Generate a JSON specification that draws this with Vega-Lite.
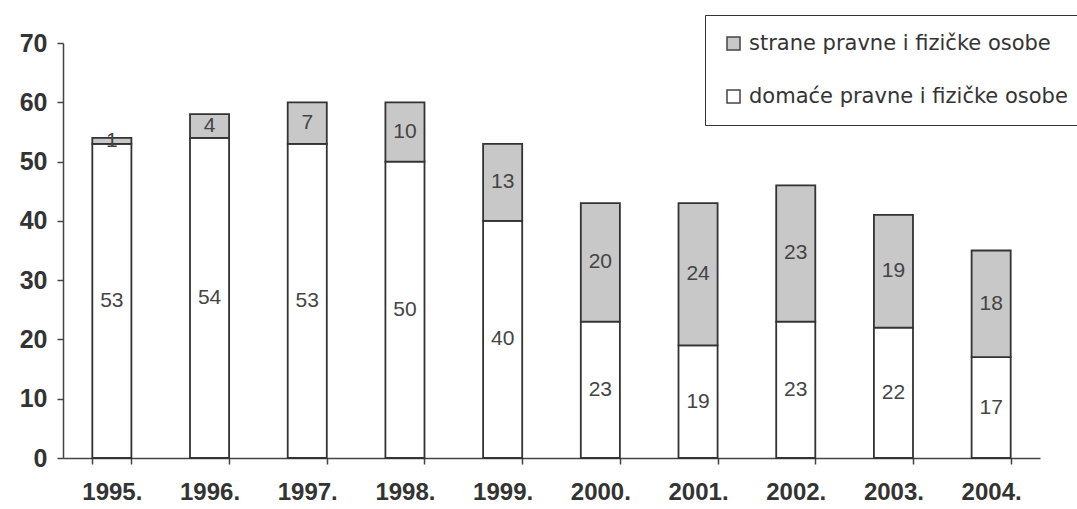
{
  "$schema": "https://vega.github.io/schema/vega-lite/v6.json",
  "width": 977,
  "height": 415,
  "autosize": {"type": "none"},
  "padding": {"left": 63, "top": 43, "right": 37, "bottom": 51},
  "background": "#ffffff",
  "config": {
    "font": "Liberation Sans",
    "view": {"stroke": null}
  },
  "data": {
    "values": [
      {"year": "1995.", "group": "domaće pravne i fizičke osobe", "ord": 1, "value": 53},
      {"year": "1995.", "group": "strane pravne i fizičke osobe", "ord": 2, "value": 1},
      {"year": "1996.", "group": "domaće pravne i fizičke osobe", "ord": 1, "value": 54},
      {"year": "1996.", "group": "strane pravne i fizičke osobe", "ord": 2, "value": 4},
      {"year": "1997.", "group": "domaće pravne i fizičke osobe", "ord": 1, "value": 53},
      {"year": "1997.", "group": "strane pravne i fizičke osobe", "ord": 2, "value": 7},
      {"year": "1998.", "group": "domaće pravne i fizičke osobe", "ord": 1, "value": 50},
      {"year": "1998.", "group": "strane pravne i fizičke osobe", "ord": 2, "value": 10},
      {"year": "1999.", "group": "domaće pravne i fizičke osobe", "ord": 1, "value": 40},
      {"year": "1999.", "group": "strane pravne i fizičke osobe", "ord": 2, "value": 13},
      {"year": "2000.", "group": "domaće pravne i fizičke osobe", "ord": 1, "value": 23},
      {"year": "2000.", "group": "strane pravne i fizičke osobe", "ord": 2, "value": 20},
      {"year": "2001.", "group": "domaće pravne i fizičke osobe", "ord": 1, "value": 19},
      {"year": "2001.", "group": "strane pravne i fizičke osobe", "ord": 2, "value": 24},
      {"year": "2002.", "group": "domaće pravne i fizičke osobe", "ord": 1, "value": 23},
      {"year": "2002.", "group": "strane pravne i fizičke osobe", "ord": 2, "value": 23},
      {"year": "2003.", "group": "domaće pravne i fizičke osobe", "ord": 1, "value": 22},
      {"year": "2003.", "group": "strane pravne i fizičke osobe", "ord": 2, "value": 19},
      {"year": "2004.", "group": "domaće pravne i fizičke osobe", "ord": 1, "value": 17},
      {"year": "2004.", "group": "strane pravne i fizičke osobe", "ord": 2, "value": 18}
    ]
  },
  "encoding": {
    "x": {
      "field": "year",
      "type": "nominal",
      "scale": {"paddingInner": 0.6, "paddingOuter": 0.3},
      "axis": {
        "title": null,
        "labelAngle": 0,
        "labelFont": "Liberation Sans",
        "labelFontSize": 24,
        "labelFontWeight": "bold",
        "labelColor": "#333333",
        "labelPadding": 16,
        "tickBand": "extent",
        "tickSize": 6,
        "tickColor": "#444444",
        "tickWidth": 1.5,
        "domainColor": "#444444",
        "domainWidth": 1.5,
        "grid": false
      }
    },
    "order": {"field": "ord", "type": "quantitative"}
  },
  "layer": [
    {
      "mark": {"type": "bar", "stroke": "#333333", "strokeWidth": 1.8},
      "encoding": {
        "y": {
          "field": "value",
          "type": "quantitative",
          "stack": "zero",
          "scale": {"domain": [0, 70], "nice": false},
          "axis": {
            "title": null,
            "values": [0, 10, 20, 30, 40, 50, 60, 70],
            "labelFont": "Liberation Sans",
            "labelFontSize": 25,
            "labelFontWeight": "bold",
            "labelColor": "#333333",
            "labelPadding": 10,
            "tickSize": 6,
            "tickColor": "#444444",
            "tickWidth": 1.5,
            "domainColor": "#444444",
            "domainWidth": 1.5,
            "grid": false
          }
        },
        "color": {
          "field": "group",
          "type": "nominal",
          "scale": {
            "domain": ["strane pravne i fizičke osobe", "domaće pravne i fizičke osobe"],
            "range": ["#c8c8c8", "#ffffff"]
          },
          "legend": {
            "title": null,
            "orient": "none",
            "legendX": 642,
            "legendY": -28,
            "direction": "vertical",
            "symbolType": "square",
            "symbolSize": 169,
            "symbolStrokeColor": "#444444",
            "symbolStrokeWidth": 1.5,
            "symbolOpacity": 1,
            "labelFont": "DejaVu Sans",
            "labelFontSize": 21,
            "labelColor": "#333333",
            "labelLimit": 400,
            "labelOffset": 5,
            "rowPadding": 31,
            "padding": 18,
            "fillColor": "#ffffff",
            "strokeColor": "#333333"
          }
        }
      }
    },
    {
      "mark": {"type": "text", "fontSize": 21, "color": "#444444", "font": "Liberation Sans"},
      "encoding": {
        "y": {"field": "value", "type": "quantitative", "stack": "zero", "bandPosition": 0.5},
        "detail": {"field": "group", "type": "nominal"},
        "text": {"field": "value", "type": "quantitative"}
      }
    }
  ]
}
